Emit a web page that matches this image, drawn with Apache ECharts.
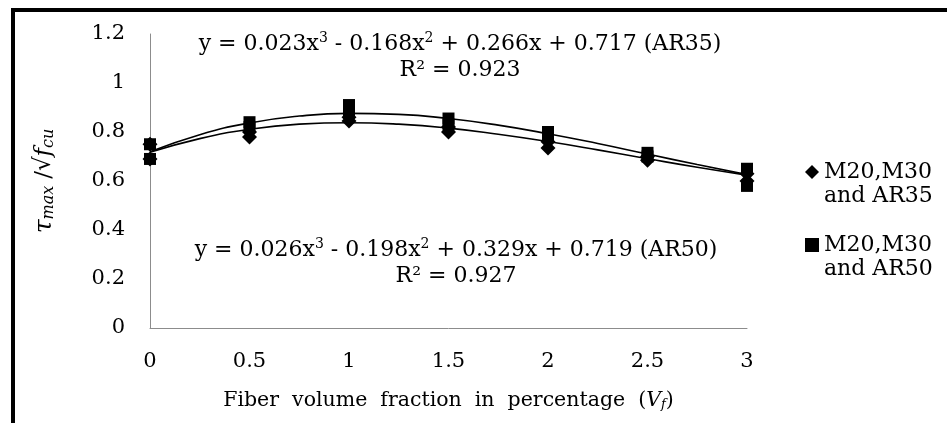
<!DOCTYPE html>
<html>
<head>
<meta charset="utf-8">
<script src="https://cdn.jsdelivr.net/npm/echarts@6/dist/echarts.min.js"></script>
<style>
  html, body { margin: 0; padding: 0; background: #fff; }
  #main { width: 947px; height: 423px; }
</style>
</head>
<body>
<div id="main"></div>
<script>
// x positions (fiber volume fraction, %)
let xVals = [0, 0, 0.5, 0.5, 1, 1, 1.5, 1.5, 2, 2, 2.5, 2.5, 3, 3]
// M20,M30 and AR35 (diamonds), two mixes per x
let ar35Vals = [0.75, 0.69, 0.80, 0.78, 0.86, 0.845, 0.82, 0.80, 0.76, 0.735, 0.70, 0.685, 0.63, 0.60]
// M20,M30 and AR50 (squares)
let ar50Vals = [0.75, 0.69, 0.84, 0.82, 0.91, 0.88, 0.855, 0.83, 0.80, 0.78, 0.715, 0.70, 0.65, 0.58]
// trend lines
let trendX = [0, 0.25, 0.5, 0.75, 1, 1.25, 1.5, 1.75, 2, 2.25, 2.5, 2.75, 3]
let trend35 = [0.717, 0.773, 0.811, 0.832, 0.838, 0.832, 0.816, 0.791, 0.761, 0.727, 0.691, 0.656, 0.624]
let trend50 = [0.719, 0.789, 0.837, 0.865, 0.876, 0.872, 0.855, 0.828, 0.793, 0.753, 0.710, 0.667, 0.626]
let eq35 = ['y = 0.023x{sup|3} - 0.168x{sup|2} + 0.266x + 0.717 (AR35)', 'R² = 0.923']
let eq50 = ['y = 0.026x{sup|3} - 0.198x{sup|2} + 0.329x + 0.719 (AR50)', 'R² = 0.927']

const serif = '"DejaVu Serif", "Liberation Serif", serif'
const pair = (xs, ys) => xs.map((x, i) => [x, ys[i]])

let myChart = echarts.init(document.getElementById('main'))

let eqRich = {
  sup: { fontFamily: serif, fontSize: 14, verticalAlign: 'top', padding: [0, 0, 8, 0], fill: '#000' }
}

let option = {
  animation: false,
  backgroundColor: '#fff',
  textStyle: { fontFamily: serif, color: '#000' },
  grid: { left: 150, right: 200, top: 34, bottom: 95 },
  xAxis: {
    type: 'value', min: 0, max: 3, interval: 0.5,
    axisLine: { lineStyle: { color: '#8c8c8c', width: 1 } },
    axisTick: { show: false },
    splitLine: { show: false },
    axisLabel: { fontSize: 21, color: '#000', fontFamily: serif, margin: 23 },
    name: 'Fiber  volume  fraction  in  percentage  ({it|V}{sub|f})',
    nameLocation: 'middle',
    nameGap: 62,
    nameTextStyle: {
      fontSize: 20.5, color: '#000', fontFamily: serif,
      rich: {
        it: { fontSize: 20.5, fontStyle: 'italic', fontFamily: serif },
        sub: { fontSize: 13, fontStyle: 'italic', fontFamily: serif, verticalAlign: 'bottom', padding: [8, 0, 0, 0] }
      }
    }
  },
  yAxis: {
    type: 'value', min: 0, max: 1.2, interval: 0.2,
    axisLine: { show: true, lineStyle: { color: '#8c8c8c', width: 1 } },
    axisTick: { show: false },
    splitLine: { show: false },
    axisLabel: { fontSize: 21, color: '#000', fontFamily: serif, margin: 25 },
    name: '{tau|τ}{sub|max} {n|/√}{it|f}{sub|cu}',
    nameLocation: 'middle',
    nameGap: 93,
    nameTextStyle: {
      fontSize: 22, color: '#000', fontFamily: serif,
      rich: {
        tau: { fontSize: 25, fontStyle: 'italic', fontFamily: serif },
        n: { fontSize: 23, fontFamily: serif },
        it: { fontSize: 23, fontStyle: 'italic', fontFamily: serif },
        sub: { fontSize: 16, fontStyle: 'italic', fontFamily: serif, verticalAlign: 'bottom', padding: [10, 0, 0, 0] }
      }
    }
  },
  legend: {
    orient: 'vertical',
    left: 800, top: 131,
    itemGap: 1,
    itemWidth: 14, itemHeight: 14,
    data: [
      { name: 'M20,M30\nand AR35', icon: 'diamond' },
      { name: 'M20,M30\nand AR50', icon: 'rect' }
    ],
    // leading blank line keeps the icon level with the first text line
    formatter: name => '\n' + name,
    textStyle: { fontFamily: serif, fontSize: 22, color: '#000', lineHeight: 24 }
  },
  series: [
    {
      name: 'trend35', type: 'line', data: pair(trendX, trend35), smooth: true,
      showSymbol: false, silent: true, z: 3,
      lineStyle: { color: '#000', width: 1.6 }
    },
    {
      name: 'trend50', type: 'line', data: pair(trendX, trend50), smooth: true,
      showSymbol: false, silent: true, z: 3,
      lineStyle: { color: '#000', width: 1.6 }
    },
    {
      name: 'M20,M30\nand AR35', type: 'scatter', symbol: 'diamond', symbolSize: 15,
      itemStyle: { color: '#000', opacity: 1 }, z: 4,
      data: pair(xVals, ar35Vals)
    },
    {
      name: 'M20,M30\nand AR50', type: 'scatter', symbol: 'rect', symbolSize: 12,
      itemStyle: { color: '#000', opacity: 1 }, z: 5,
      data: pair(xVals, ar50Vals)
    }
  ],
  graphic: [
    // outer frame (top and left edge)
    { type: 'rect', shape: { x: 11, y: 8, width: 936, height: 4 }, style: { fill: '#000' } },
    { type: 'rect', shape: { x: 11, y: 8, width: 4, height: 415 }, style: { fill: '#000' } },
    {
      type: 'text', x: 460, y: 31, z: 10,
      style: { text: eq35[0] + '\n' + eq35[1], fontFamily: serif, fontSize: 22, lineHeight: 26, align: 'center', verticalAlign: 'top', fill: '#000', rich: eqRich }
    },
    {
      type: 'text', x: 456, y: 237, z: 10,
      style: { text: eq50[0] + '\n' + eq50[1], fontFamily: serif, fontSize: 22, lineHeight: 26, align: 'center', verticalAlign: 'top', fill: '#000', rich: eqRich }
    }
  ]
}

myChart.setOption(option, true)
</script>
</body>
</html>
